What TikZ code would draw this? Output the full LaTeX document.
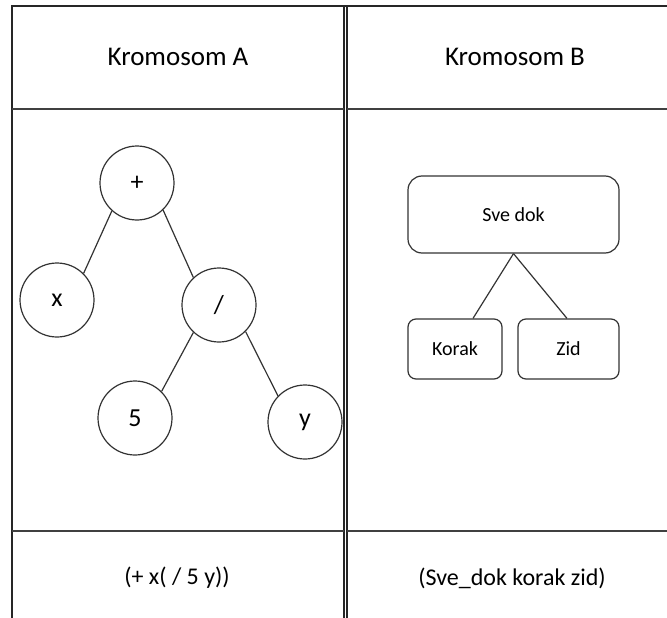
\documentclass[tikz,border=0pt]{standalone}
\usepackage{fontspec}
\setmainfont{Carlito}
\begin{document}
\begin{tikzpicture}[x=1pt,y=-1pt,
  tline/.style={line width=1.6pt,draw=black!85},
  iline/.style={line width=1.4pt,draw=black!75},
  circ/.style={circle,draw=black!80,line width=1.2pt,minimum size=74pt,inner sep=0pt,font=\fontsize{26}{26}\selectfont},
  rbox/.style={rectangle,draw=black!80,line width=1.2pt,inner sep=0pt,font=\fontsize{20}{20}\selectfont},
  edge/.style={draw=black!80,line width=1.2pt},
  head/.style={font=\fontsize{27}{27}\selectfont},
  foot/.style={font=\fontsize{24}{24}\selectfont}]
\useasboundingbox (0,0) rectangle (667,618);
\fill[white] (0,0) rectangle (667,618);
% table
\draw[tline] (12,618) -- (12,6) -- (667,6);
\draw[tline] (344,6) -- (344,618);
\draw[tline] (347,6) -- (347,618);
\draw[iline] (12,109) -- (344,109);
\draw[iline] (347,109) -- (667,109);
\draw[iline] (12,531) -- (344,531);
\draw[iline] (347,531) -- (667,531);
% headers
\node[head] (ha) at (178,57) {Kromosom A};
\node[head] (hb) at (515,57) {Kromosom B};
% tree A
\node[circ] (plus) at (137,183) {+};
\node[circ] (x) at (57,300) {x};
\node[circ] (div) at (219,305) {/};
\node[circ] (five) at (135,418) {5};
\node[circ] (y) at (305,422) {y};
\draw[edge] (plus.228) -- (x.45);
\draw[edge] (plus.314) -- (div.133);
\draw[edge] (div.227) -- (five.45);
\draw[edge] (div.315) -- (y.136);
% tree B
\node[rbox,rounded corners=14pt,minimum width=211pt,minimum height=77pt] (sve) at (513.5,214.5) {Sve dok};
\node[rbox,rounded corners=8pt,minimum width=94pt,minimum height=60pt] (korak) at (455,349) {Korak};
\node[rbox,rounded corners=8pt,minimum width=101pt,minimum height=60pt] (zid) at (568.5,349) {Zid};
\draw[edge] (sve.south) -- ([xshift=18pt]korak.north);
\draw[edge] (sve.south) -- ([xshift=-1.5pt]zid.north);
% footers
\node[foot] (fa) at (177,578) {(+ x( / 5 y))};
\node[foot] (fb) at (512,578) {(Sve\_dok korak zid)};
\end{tikzpicture}
\end{document}
